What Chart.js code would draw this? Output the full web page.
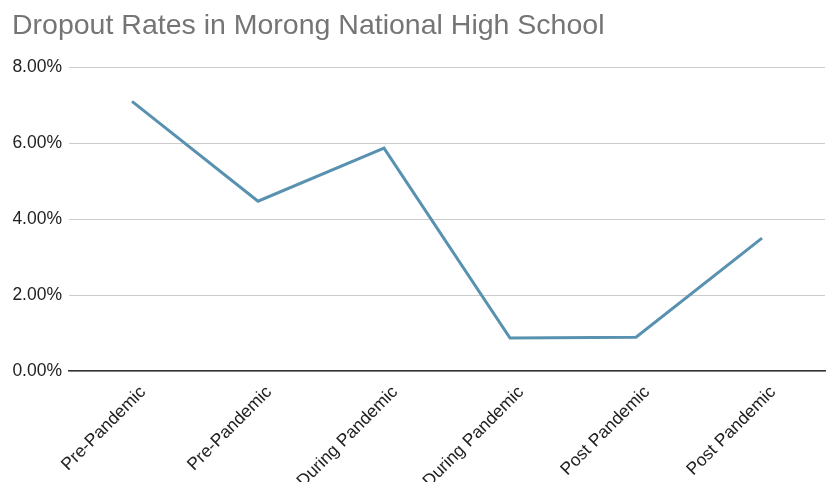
<!DOCTYPE html>
<html>
<head>
<meta charset="utf-8">
<script src="https://cdn.jsdelivr.net/npm/chart.js@4.4.0/dist/chart.umd.min.js"></script>
<style>
  html, body { margin: 0; padding: 0; background: #fff; }
  #wrap { width: 827px; height: 482px; }
</style>
</head>
<body>
<div id="wrap"><canvas id="myChart" width="827" height="482"></canvas></div>
<script>
// data
const categories = ['Pre-Pandemic', 'Pre-Pandemic', 'During Pandemic', 'During Pandemic', 'Post Pandemic', 'Post Pandemic'];
const dropoutRates = [0.0710, 0.0447, 0.0587, 0.0087, 0.0089, 0.0350];
const yTicks = [0, 0.02, 0.04, 0.06, 0.08];

const ctx = document.getElementById('myChart');

new Chart(ctx, {
  type: 'line',
  data: {
    labels: categories,
    datasets: [{
      label: 'Dropout Rate',
      data: dropoutRates,
      borderColor: 'rgb(88,146,176)',
      borderWidth: 3,
      pointRadius: 0,
      tension: 0,
      fill: false
    }]
  },
  options: {
    responsive: false,
    animation: false,
    layout: { padding: { left: 12, right: 2, top: 7, bottom: 0 } },
    plugins: {
      legend: { display: false },
      tooltip: { enabled: false },
      title: {
        display: true,
        text: 'Dropout Rates in Morong National High School',
        align: 'start',
        color: '#757575',
        font: { family: 'Liberation Sans, Arial, sans-serif', size: 28.5, weight: 'normal' },
        padding: { top: 2, bottom: 24 }
      }
    },
    scales: {
      x: {
        offset: true,
        grid: { display: false, drawTicks: false },
        border: { display: true, color: '#333', width: 1.5 },
        ticks: {
          minRotation: 45,
          maxRotation: 45,
          color: '#222',
          padding: 11,
          labelOffset: 11,
          font: { family: 'Liberation Sans, Arial, sans-serif', size: 17.5 }
        },
        afterFit: function(axis) { axis.height = 111; }
      },
      y: {
        min: 0,
        max: 0.08,
        afterBuildTicks: function(axis) {
          axis.ticks = yTicks.map(v => ({ value: v }));
        },
        grid: { color: '#cccccc', drawTicks: false, lineWidth: 1 },
        border: { display: false },
        ticks: {
          color: '#222',
          padding: 7,
          font: { family: 'Liberation Sans, Arial, sans-serif', size: 17.5 },
          callback: v => (v * 100).toFixed(2) + '%'
        },
        afterFit: function(axis) { axis.width = 57; }
      }
    }
  }
});
</script>
</body>
</html>
